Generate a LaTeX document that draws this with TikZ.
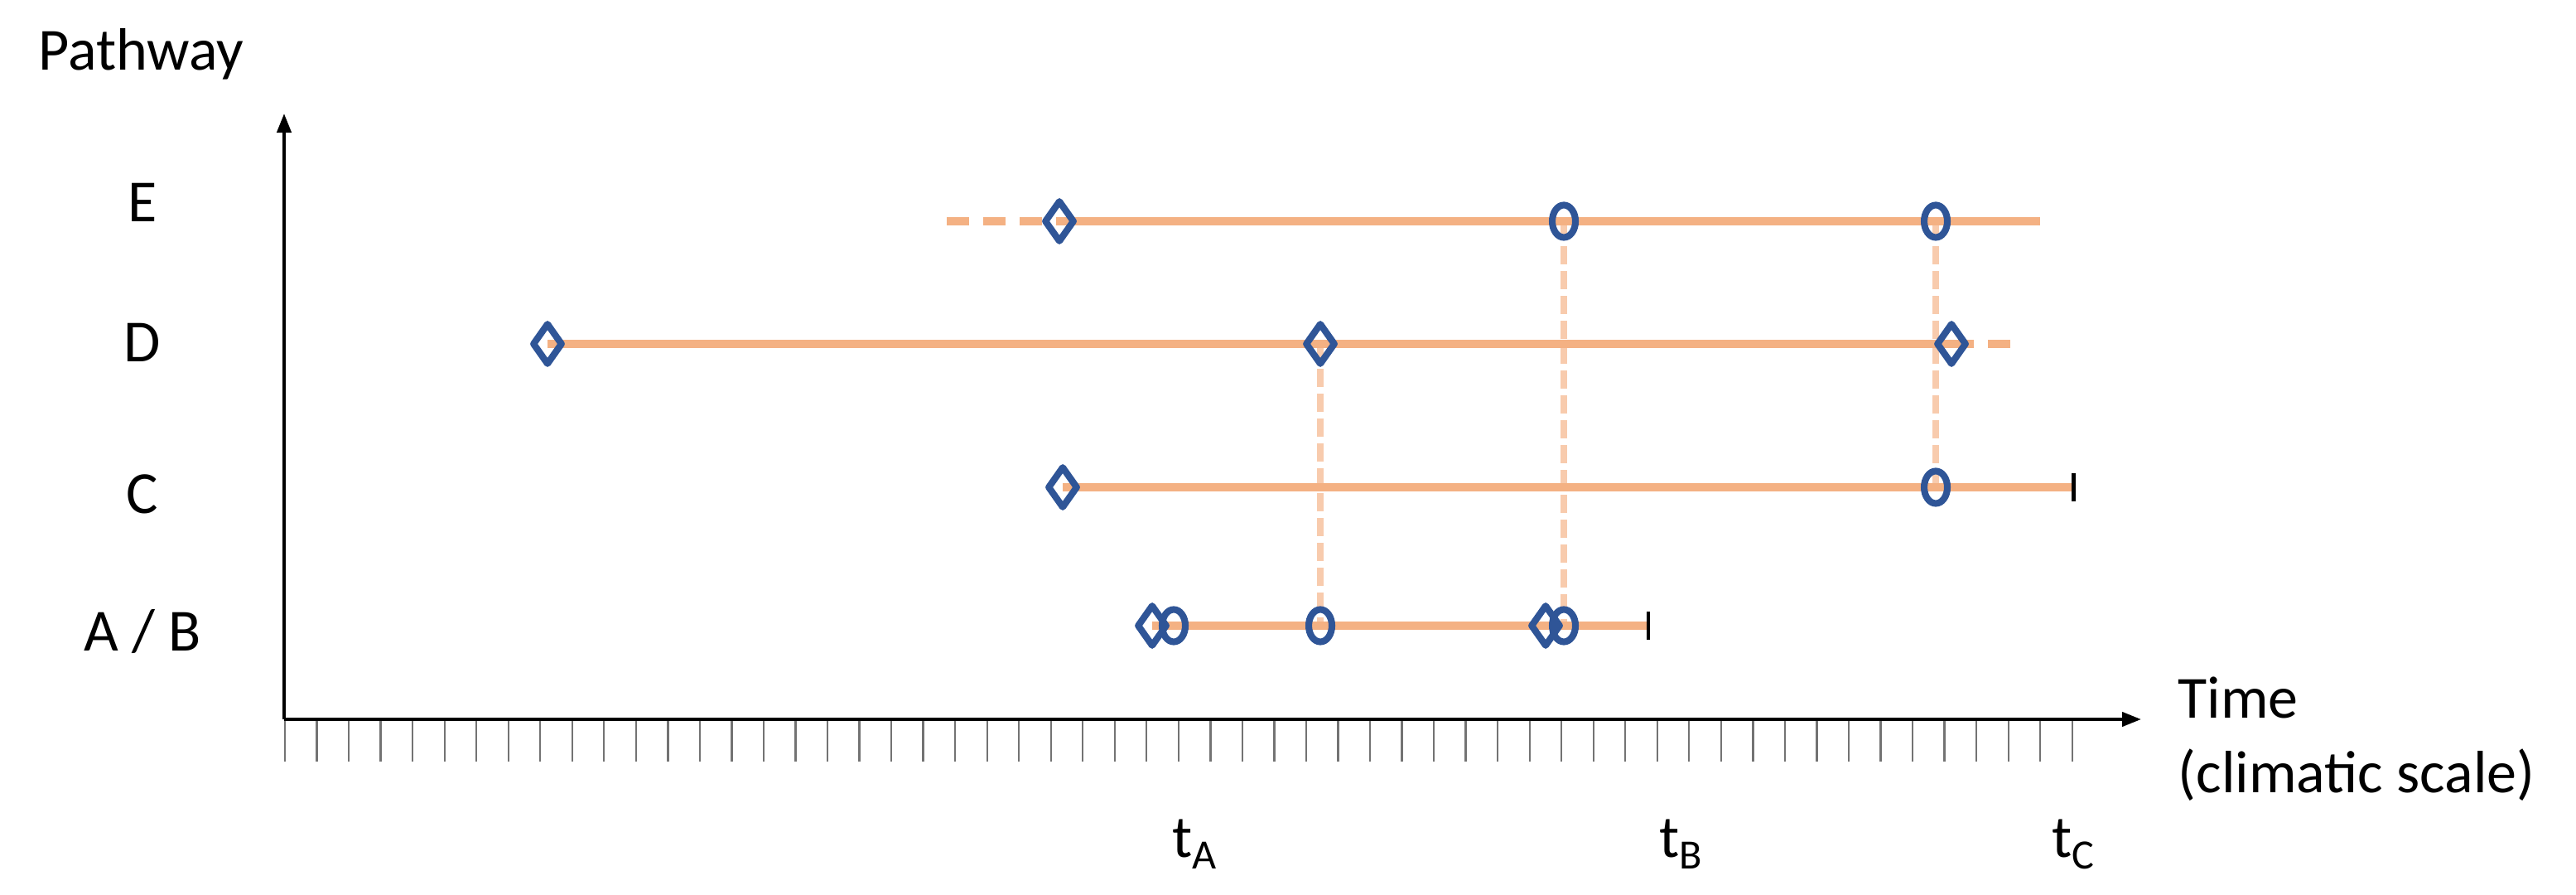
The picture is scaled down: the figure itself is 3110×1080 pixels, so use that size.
\documentclass[tikz,border=0pt]{standalone}
\usepackage{fontspec}
\setmainfont{Carlito}
\usetikzlibrary{shapes.geometric,arrows.meta}
\pgfdeclarelayer{background}
\pgfsetlayers{background,main}
\definecolor{pathorange}{HTML}{F4B183}
\definecolor{pathlight}{HTML}{F8CBAD}
\definecolor{markblue}{HTML}{2F5597}
\begin{document}
\begin{tikzpicture}[x=0.01cm,y=-0.01cm,
  lbl/.style={font=\fontsize{20.5}{24}\selectfont, inner sep=0pt},
  dia/.style={diamond, draw=markblue, line width=2.3pt, line join=round, minimum width=0.37cm, minimum height=0.51cm, inner sep=0pt},
  ell/.style={ellipse, draw=markblue, line width=2.3pt, minimum width=0.28cm, minimum height=0.39cm, inner sep=0pt},
  track/.style={pathorange, line width=2.85pt},
  trackdash/.style={pathorange, line width=2.85pt, dash pattern=on 0.27cm off 0.17cm},
  link/.style={pathlight, line width=2.3pt, dash pattern=on 0.22cm off 0.08cm},
  endbar/.style={black, line width=1.4pt},
  axisline/.style={black, line width=1.2pt, -{Triangle[length=0.23cm,width=0.17cm]}},
  tickline/.style={black!55, line width=0.65pt}]
\useasboundingbox (0,0) rectangle (3110,1080);

% axes
\coordinate (O) at (343,868);
\coordinate (ytop) at (343,137);
\coordinate (xend) at (2585,868);
\foreach \i in {0,...,56} \draw[tickline] ({344+\i*38.53},868) -- ({344+\i*38.53},919);
\draw[axisline] (O) -- (ytop);
\draw[axisline] (O) -- (xend);

% labels
\node[lbl, anchor=base west] (pathway) at (46,85) {Pathway};
\node[lbl, anchor=base] (labE) at (172,268) {E};
\node[lbl, anchor=base] (labD) at (172,437) {D};
\node[lbl, anchor=base] (labC) at (172,620) {C};
\node[lbl, anchor=base] (labAB) at (172,786) {A / B};
\node[lbl, anchor=base west] (time1) at (2629,866) {Time};
\node[lbl, anchor=base west] (time2) at (2629,956) {(climatic scale)};
\node[lbl, anchor=base west] (tA) at (1415,1034) {t\raisebox{-0.2em}{\fontsize{14.3}{15}\selectfont A}};
\node[lbl, anchor=base west] (tB) at (2003,1034) {t\raisebox{-0.2em}{\fontsize{14.3}{15}\selectfont B}};
\node[lbl, anchor=base west] (tC) at (2477,1034) {t\raisebox{-0.2em}{\fontsize{14.3}{15}\selectfont C}};

% markers
\node[dia] (e1) at (1279,267) {};
\node[ell] (e2) at (1888,267) {};
\node[ell] (e3) at (2337,267) {};
\coordinate (e0) at (1143,267);
\coordinate (eend) at (2463,267);

\node[dia] (d1) at (661,415) {};
\node[dia] (d2) at (1594,415) {};
\node[dia] (d3) at (2356,415) {};
\coordinate (dend) at (2427,415);

\node[dia] (c1) at (1283,588) {};
\node[ell] (c2) at (2337,588) {};
\coordinate (cend) at (2503,588);

\node[dia] (ab1) at (1391,755) {};
\node[ell] (ab2) at (1417,755) {};
\node[ell] (ab3) at (1594,755) {};
\node[dia] (ab4) at (1866,755) {};
\node[ell] (ab5) at (1888,755) {};
\coordinate (abend) at (1990,755);

\begin{pgfonlayer}{background}
  \draw[link] (d2.center) -- (ab3.center);
  \draw[link] (e2.center) -- (ab5.center);
  \draw[link] (e3.center) -- (c2.center);
  \draw[trackdash] (e0) -- (e1.center);
  \draw[track] (e1.center) -- (eend);
  \draw[track] (d1.center) -- (d3.center);
  \draw[trackdash] (d3.center) -- (dend);
  \draw[track] (c1.center) -- (cend);
  \draw[track] (ab1.center) -- (abend);
\end{pgfonlayer}
\draw[endbar] (cend) ++(0,-17) -- ++(0,34);
\draw[endbar] (abend) ++(0,-17) -- ++(0,34);
\end{tikzpicture}
\end{document}
